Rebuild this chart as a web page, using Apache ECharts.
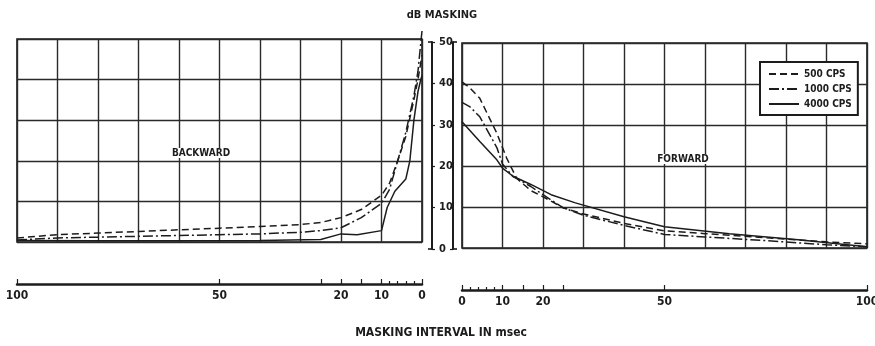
<!DOCTYPE html>
<html>
<head>
<meta charset="utf-8">
<script src="https://cdn.jsdelivr.net/npm/echarts@6/dist/echarts.min.js"></script>
<style>
  html, body { margin: 0; padding: 0; background: #fff; }
  #chart { width: 875px; height: 346px; }
</style>
</head>
<body>
<div id="chart"></div>
<script>
// Masking interval (msec) and masking level (dB) for each tone frequency.
const seriesNames = ['500 CPS', '1000 CPS', '4000 CPS'];

// Backward masking: masker follows the signal.
const backMs500  = [100, 90, 80, 70, 60, 50, 40, 30, 25, 20, 15, 10, 8, 6, 4, 2, 1, 0];
const back500    = [1.0, 1.8, 2.2, 2.6, 3.0, 3.4, 3.8, 4.3, 4.8, 6.0, 8.0, 11.5, 14.5, 20, 26, 35, 40, 46];
const backMs1000 = [100, 90, 80, 60, 50, 40, 30, 25, 20, 15, 10, 8, 6, 4, 2, 1, 0];
const back1000   = [0.5, 1.0, 1.2, 1.6, 1.8, 2.0, 2.4, 2.8, 3.5, 6.0, 9.5, 13, 20, 27, 36, 42, 52];
const backMs4000 = [100, 80, 60, 40, 25, 20, 16, 10, 8.6, 6.7, 4, 3, 2, 1, 0.3, 0];
const back4000   = [0.4, 0.3, 0.3, 0.4, 0.6, 2.0, 1.8, 2.8, 8.5, 12.5, 15.5, 20, 30, 37, 40, 41];

// Forward masking: masker precedes the signal.
const fwdMs500  = [0, 2, 4.4, 8.6, 11, 13.5, 17, 20, 25, 30, 40, 50, 60, 75, 90, 100];
const fwd500    = [40.5, 39, 36.5, 28, 22, 17, 14, 12.5, 9.8, 8.3, 6, 4.2, 3.5, 2.5, 1.5, 1.0];
const fwdMs1000 = [0, 2, 4.4, 8.6, 10, 12.5, 17, 20, 25, 30, 40, 50, 60, 75, 90, 100];
const fwd1000   = [35.5, 34.4, 32, 24.5, 20.5, 17.5, 15, 13, 9.8, 8, 5.5, 3.3, 2.7, 1.8, 0.8, 0.3];
const fwdMs4000 = [0, 4.4, 8.6, 10, 12.6, 17, 22, 28, 40, 50, 66, 83, 100];
const fwd4000   = [30.8, 26, 21.5, 19.5, 17.5, 15.5, 13, 11, 7.6, 5.2, 3.5, 2, 0.3];

// Axis ticks and labels.
const dbTicks        = [0, 10, 20, 30, 40, 50];
const msLabelValues  = [0, 10, 20, 50, 100];
const msMajorTicks   = [0, 10, 15, 20, 25, 50, 100];
const msMinorTicks   = [2, 4, 6, 8];

const FONT = '"Liberation Sans Narrow", "DejaVu Sans Condensed", "Roboto", sans-serif';
const INK = '#1c1c1c';
const gridLine = { color: '#2a2a2a', width: 1.4 };

const lineStyles = [
  { type: [7, 4], width: 1.5, color: INK },          // 500 CPS
  { type: [10, 3, 2, 3], width: 1.5, color: INK },   // 1000 CPS
  { type: 'solid', width: 1.5, color: INK }          // 4000 CPS
];

function pairs(xs, ys) { return xs.map((x, i) => [x, ys[i]]); }

// Grid split-line axis (hidden line, labels)
function splitXAxis(gridIndex, inverse) {
  return {
    type: 'value', gridIndex, min: 0, max: 100, interval: 10, inverse,
    axisLine: { show: false }, axisTick: { show: false }, axisLabel: { show: false },
    splitLine: { show: true, lineStyle: gridLine }
  };
}
// Visible time scale below each panel
function scaleXAxis(gridIndex, inverse, offset) {
  return {
    type: 'value', gridIndex, min: 0, max: 100, inverse, position: 'bottom', offset,
    axisLine: { show: true, lineStyle: { color: INK, width: 2.5 } },
    axisTick: { show: true, inside: true, length: 5, customValues: msMajorTicks, lineStyle: { color: INK, width: 1.2 } },
    axisLabel: { show: true, customValues: msLabelValues, margin: 6, color: INK,
                 fontFamily: FONT, fontWeight: 'bold', fontSize: 12 },
    splitLine: { show: false }
  };
}
function minorXAxis(gridIndex, inverse, offset) {
  return {
    type: 'value', gridIndex, min: 0, max: 100, inverse, position: 'bottom', offset,
    axisLine: { show: false },
    axisTick: { show: true, inside: true, length: 3, customValues: msMinorTicks, lineStyle: { color: INK, width: 1.2 } },
    axisLabel: { show: false }, splitLine: { show: false }
  };
}
function panelYAxis(gridIndex) {
  return {
    type: 'value', gridIndex, min: 0, max: 50, interval: 10,
    axisLine: { show: false }, axisTick: { show: false }, axisLabel: { show: false },
    splitLine: { show: true, lineStyle: gridLine }
  };
}

const series = [];
const backData = [pairs(backMs500, back500), pairs(backMs1000, back1000), pairs(backMs4000, back4000)];
const fwdData  = [pairs(fwdMs500, fwd500), pairs(fwdMs1000, fwd1000), pairs(fwdMs4000, fwd4000)];
seriesNames.forEach((name, i) => {
  series.push({
    name, type: 'line', xAxisIndex: 0, yAxisIndex: 0, data: backData[i],
    symbol: 'none', clip: false, lineStyle: lineStyles[i], itemStyle: { color: INK },
    silent: true, animation: false
  });
});
seriesNames.forEach((name, i) => {
  series.push({
    name, type: 'line', xAxisIndex: 3, yAxisIndex: 1, data: fwdData[i],
    symbol: 'none', clip: false, lineStyle: lineStyles[i], itemStyle: { color: INK },
    silent: true, animation: false
  });
});

const chart = echarts.init(document.getElementById('chart'), null, { renderer: 'canvas' });
chart.setOption({
  backgroundColor: '#fff',
  animation: false,
  grid: [
    { left: 17, width: 405, top: 39, height: 203, show: true, borderColor: INK, borderWidth: 1.6,
      containLabel: false, outerBoundsMode: 'none' },
    { left: 462, width: 405, top: 43, height: 205, show: true, borderColor: INK, borderWidth: 1.6,
      containLabel: false, outerBoundsMode: 'none' },
    { left: 432, width: 21, top: 42, height: 207, show: false, containLabel: false, outerBoundsMode: 'none' }
  ],
  xAxis: [
    splitXAxis(0, true),           // 0
    scaleXAxis(0, true, 42),       // 1
    minorXAxis(0, true, 42),       // 2
    splitXAxis(1, false),          // 3
    scaleXAxis(1, false, 42),      // 4
    minorXAxis(1, false, 42),      // 5
    { type: 'value', gridIndex: 2, show: false, min: 0, max: 1 } // 6
  ],
  yAxis: [
    panelYAxis(0),
    panelYAxis(1),
    // central dB scale: left rail, labels inside
    { type: 'value', gridIndex: 2, min: 0, max: 50, interval: 10, position: 'left',
      axisLine: { show: true, lineStyle: { color: INK, width: 2 } },
      axisTick: { show: true, inside: true, length: 3, lineStyle: { color: INK, width: 1.2 } },
      axisLabel: { show: true, inside: true, margin: 7, color: INK, fontFamily: FONT, fontWeight: 'bold', fontSize: 11,
                   formatter: v => dbTicks.includes(v) ? String(v) : '' },
      splitLine: { show: false } },
    { type: 'value', gridIndex: 2, min: 0, max: 50, interval: 50, position: 'left',
      axisLine: { show: false },
      axisTick: { show: true, inside: false, length: 4, lineStyle: { color: INK, width: 1.6 } },
      axisLabel: { show: false }, splitLine: { show: false } },
    // right rail
    { type: 'value', gridIndex: 2, min: 0, max: 50, interval: 10, position: 'right',
      axisLine: { show: true, lineStyle: { color: INK, width: 2 } },
      axisTick: { show: true, inside: true, length: 3, lineStyle: { color: INK, width: 1.2 } },
      axisLabel: { show: false }, splitLine: { show: false } },
    { type: 'value', gridIndex: 2, min: 0, max: 50, interval: 50, position: 'right',
      axisLine: { show: false },
      axisTick: { show: true, inside: false, length: 4, lineStyle: { color: INK, width: 1.6 } },
      axisLabel: { show: false }, splitLine: { show: false } }
  ],
  legend: {
    orient: 'vertical', left: 760, top: 62,
    data: seriesNames, selectedMode: false,
    itemWidth: 30, itemHeight: 10, itemGap: 5,
    padding: [7, 6, 6, 8],
    backgroundColor: '#fff', borderColor: INK, borderWidth: 2,
    itemStyle: { color: 'rgba(0,0,0,0)', borderWidth: 0, opacity: 0 },
    textStyle: { color: INK, fontFamily: FONT, fontWeight: 'bold', fontSize: 10 }
  },
  graphic: [
    { type: 'text', x: 442, y: 15, style: { text: 'dB MASKING', align: 'center', verticalAlign: 'middle',
      fill: INK, fontFamily: FONT, fontWeight: 'bold', fontSize: 11 } },
    { type: 'text', x: 441, y: 333, style: { text: 'MASKING INTERVAL IN msec', align: 'center', verticalAlign: 'middle',
      fill: INK, fontFamily: FONT, fontWeight: 'bold', fontSize: 12 } },
    { type: 'text', x: 201, y: 153, z: 10, style: { text: 'BACKWARD', align: 'center', verticalAlign: 'middle',
      fill: INK, fontFamily: FONT, fontWeight: 'bold', fontSize: 10, backgroundColor: '#fff' } },
    { type: 'text', x: 683, y: 159, z: 10, style: { text: 'FORWARD', align: 'center', verticalAlign: 'middle',
      fill: INK, fontFamily: FONT, fontWeight: 'bold', fontSize: 10, backgroundColor: '#fff' } }
  ],
  series
});
</script>
</body>
</html>
